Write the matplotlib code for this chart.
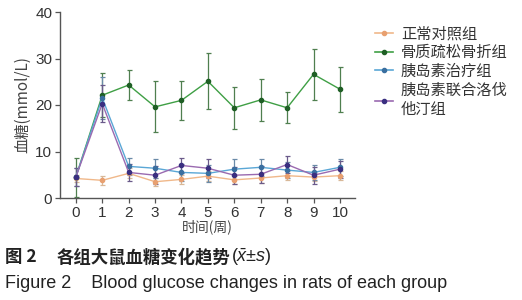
import matplotlib
matplotlib.use("Agg")
import matplotlib.pyplot as plt
from matplotlib.lines import Line2D
import numpy as np

plt.rcParams['font.family'] = ['Noto Sans CJK SC', 'DejaVu Sans']
plt.rcParams['mathtext.fontset'] = 'custom'
plt.rcParams['mathtext.it'] = 'Liberation Sans:italic'
plt.rcParams['mathtext.rm'] = 'Liberation Sans'

weeks = [0, 1, 2, 3, 4, 5, 6, 7, 8, 9, 10]
tick_labels = ["0", "1", "2", "3", "4", "5", "6", "7", "8", "9", "10"]
series_names = ["正常对照组", "骨质疏松骨折组", "胰岛素治疗组", "胰岛素联合洛伐\n他汀组"]

normal_mean = [4.2, 3.8, 5.3, 3.5, 4.0, 4.7, 3.9, 4.3, 4.8, 4.5, 4.8]
normal_sd = [0.8, 0.9, 1.1, 0.9, 0.9, 1.0, 0.9, 1.0, 1.0, 0.9, 1.0]

fracture_mean = [4.5, 22.1, 24.3, 19.6, 21.0, 25.1, 19.4, 21.1, 19.4, 26.6, 23.4]
fracture_sd = [4.2, 4.7, 3.2, 5.5, 4.2, 6.0, 4.5, 4.5, 3.3, 5.5, 4.8]

insulin_mean = [4.5, 21.5, 6.8, 6.4, 5.5, 5.3, 6.2, 6.6, 6.0, 5.5, 6.6]
insulin_sd = [2.0, 4.5, 1.8, 2.0, 1.8, 1.8, 2.2, 1.8, 1.8, 1.6, 1.8]

combo_mean = [4.5, 20.3, 5.5, 4.9, 7.0, 6.4, 4.9, 5.1, 7.2, 4.9, 6.2]
combo_sd = [2.0, 4.0, 1.8, 1.9, 1.6, 2.0, 1.8, 1.8, 1.8, 1.8, 1.8]

means = [normal_mean, fracture_mean, insulin_mean, combo_mean]
sds = [normal_sd, fracture_sd, insulin_sd, combo_sd]
line_colors = ["#f0b88a", "#3f9f45", "#5aa7d6", "#9a6ab0"]
marker_colors = ["#e8a070", "#1f5f25", "#3a6fa0", "#3a2f80"]
err_colors = ["#d8b898", "#4f7f4f", "#6a8aa8", "#6a5a8a"]

fig = plt.figure(figsize=(5.22, 3.0), dpi=100)
ax = fig.add_axes([60/522, 1 - 198/300, 295/522, 186/300])

x = np.array(weeks)
handles = []
for m, s, lc, mc, ec, name in zip(means, sds, line_colors, marker_colors, err_colors, series_names):
    ax.errorbar(x, m, yerr=s, color=lc, ecolor=ec, elinewidth=0.9, capsize=1.8,
                capthick=0.9, lw=1.0, marker='o', ms=3, mfc=mc, mec=mc)
    handles.append(Line2D([], [], color=lc, lw=1.2, marker='o', ms=3, mfc=mc, mec=mc, label=name))

ax.set_xlim(-0.6, 10.57)
ax.set_ylim(0, 40)
ax.set_xticks(x)
ax.set_xticklabels(tick_labels)
ax.set_yticks([0, 10, 20, 30, 40])
for sp in ['top', 'right']:
    ax.spines[sp].set_visible(False)
for sp in ['left', 'bottom']:
    ax.spines[sp].set_color('#555555')
    ax.spines[sp].set_linewidth(1.0)
ax.tick_params(axis='both', colors='#555555', labelcolor='#333333', labelsize=11,
               length=3.5, width=0.9, direction='out', pad=2)
for lab in ax.get_xticklabels() + ax.get_yticklabels():
    lab.set_family(['Liberation Sans', 'DejaVu Sans'])
ax.set_ylabel("血糖(mmol/L)", fontsize=11, color='#444444', labelpad=3)
ax.set_xlabel("时间(周)", fontsize=10, color='#444444', labelpad=0)

leg = ax.legend(handles=handles, loc='upper left', bbox_to_anchor=(1.047, 0.962), frameon=False,
                fontsize=11, handlelength=1.2, handletextpad=0.5, labelspacing=0.12,
                borderaxespad=0)
for t in leg.get_texts():
    t.set_color('#333333')

fig.text(5/522, 1 - 257/300, "图 2", fontsize=12.5, color='#222222', va='center', fontweight='bold')
t1 = fig.text(57/522, 1 - 257/300, "各组大鼠血糖变化趋势", fontsize=12.5, color='#222222',
              va='center', fontweight='bold')
fig.canvas.draw()
bb = t1.get_window_extent()
fig.text(bb.x1 / fig.bbox.width, 1 - 257/300, r"($\bar{x}$±$s$)", fontsize=13, color='#222222',
         va='center', family=['Liberation Sans', 'DejaVu Sans'])
fig.text(5/522, 1 - 283/300, "Figure 2    Blood glucose changes in rats of each group",
         fontsize=13, color='#222222', va='center', family=['Liberation Sans', 'DejaVu Sans'])

fig.savefig("out.png", dpi=100, facecolor='white')
